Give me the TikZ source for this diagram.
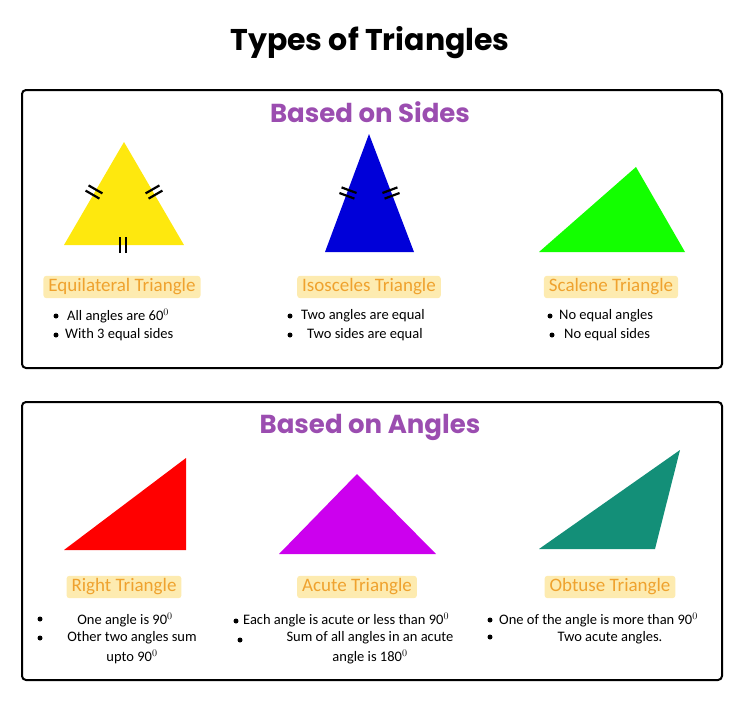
\documentclass[tikz,border=0pt]{standalone}
\usepackage{fontspec}
\setmainfont{Carlito}
\newfontfamily\headfont{Poppins}
\usetikzlibrary{positioning}
\definecolor{headpurple}{HTML}{9B4DB0}
\definecolor{labelfill}{HTML}{FDEBB0}
\definecolor{labeltext}{HTML}{EFA22E}
\definecolor{teal}{HTML}{138F78}
\definecolor{acutepink}{HTML}{CC00EE}
\tikzset{
x=1pt, y=-1pt,
panel/.style={draw=black, line width=2pt, rounded corners=4pt}, % the two frames
heading/.style={font=\headfont\bfseries\fontsize{26}{30}\selectfont, text=headpurple},
tag/.style={fill=labelfill, text=labeltext, rounded corners=3pt, inner xsep=5pt, inner ysep=3pt, font=\fontsize{19}{22}\selectfont},
note/.style={font=\fontsize{14.5}{16}\selectfont, inner sep=0pt},
dot/.style={circle, fill=black, inner sep=0pt, minimum size=5pt},
tickmark/.style={line width=2.2pt},
}
\newcommand{\eqticks}[2]{\draw[tickmark, shift={#1}, rotate=#2] (-8,-3) -- (8,-3) (-8,3) -- (8,3);}
\begin{document}
\begin{tikzpicture}
\useasboundingbox (0,0) rectangle (740,705);
\node[font=\headfont\bfseries\fontsize{30}{36}\selectfont] (title) at (370,43) {Types of Triangles};

% based on sides
\draw[panel] (22,90) rectangle (722,368);
\node[heading] (sides) at (370,112) {Based on Sides};

\fill[yellow!90!orange!95] (64,245) -- (184,245) -- (124,142) -- cycle;
\eqticks{(94,192)}{-30}
\eqticks{(154,192)}{30}
\eqticks{(123,245)}{90}
\fill[blue!85!black] (325,252) -- (414,252) -- (369,134) -- cycle;
\eqticks{(348,193)}{-20.5}
\eqticks{(391,193)}{20.5}
\fill[green!90!lime] (539,252) -- (685,252) -- (636,167) -- cycle;

\node[tag] (equi) at (122,287) {Equilateral Triangle};
\node[tag] (isos) at (369,287) {Isosceles Triangle};
\node[tag] (scal) at (611,287) {Scalene Triangle};

\node[dot] (d1) at (56,316) {};
\node[note, anchor=west] (n1) at (67,316) {All angles are 60$^0$};
\node[dot] (d2) at (56,335) {};
\node[note, anchor=west] (n2) at (65,335) {With 3 equal sides};
\node[dot] (d3) at (290,316) {};
\node[note, anchor=west] (n3) at (301,316) {Two angles are equal};
\node[dot] (d4) at (290,335) {};
\node[note, anchor=west] (n4) at (307,335) {Two sides are equal};
\node[dot] (d5) at (550,316) {};
\node[note, anchor=west] (n5) at (559,316) {No equal angles};
\node[dot] (d6) at (552,335) {};
\node[note, anchor=west] (n6) at (564,335) {No equal sides};

% based on angles
\draw[panel] (22,402) rectangle (722,680);
\node[heading] (angles) at (370,427) {Based on Angles};

\fill[red] (64,550) -- (186,550) -- (186,458) -- cycle;
\fill[acutepink] (279,554) -- (436,554) -- (357,474) -- cycle;
\fill[teal] (539,549) -- (655,549) -- (680,450) -- cycle;

\node[tag] (right) at (124,587) {Right Triangle};
\node[tag] (acute) at (357,587) {Acute Triangle};
\node[tag] (obtuse) at (610,587) {Obtuse Triangle};

\node[dot] (e1) at (40,619) {};
\node[note] (m1) at (125,620) {One angle is 90$^0$};
\node[dot] (e2) at (40,638) {};
\node[note] (m2) at (132,638) {Other two angles sum};
\node[note] (m3) at (132,657) {upto 90$^0$};
\node[dot] (e3) at (236,621) {};
\node[note, anchor=west] (m4) at (243,620) {Each angle is acute or less than 90$^0$};
\node[dot] (e4) at (240,640) {};
\node[note] (m5) at (370,638) {Sum of all angles in an acute};
\node[note] (m6) at (370,657) {angle is 180$^0$};
\node[dot] (e5) at (490,620) {};
\node[note, anchor=west] (m7) at (499,620) {One of the angle is more than 90$^0$};
\node[dot] (e6) at (490,637) {};
\node[note] (m8) at (610,638) {Two acute angles.};
\end{tikzpicture}
\end{document}
